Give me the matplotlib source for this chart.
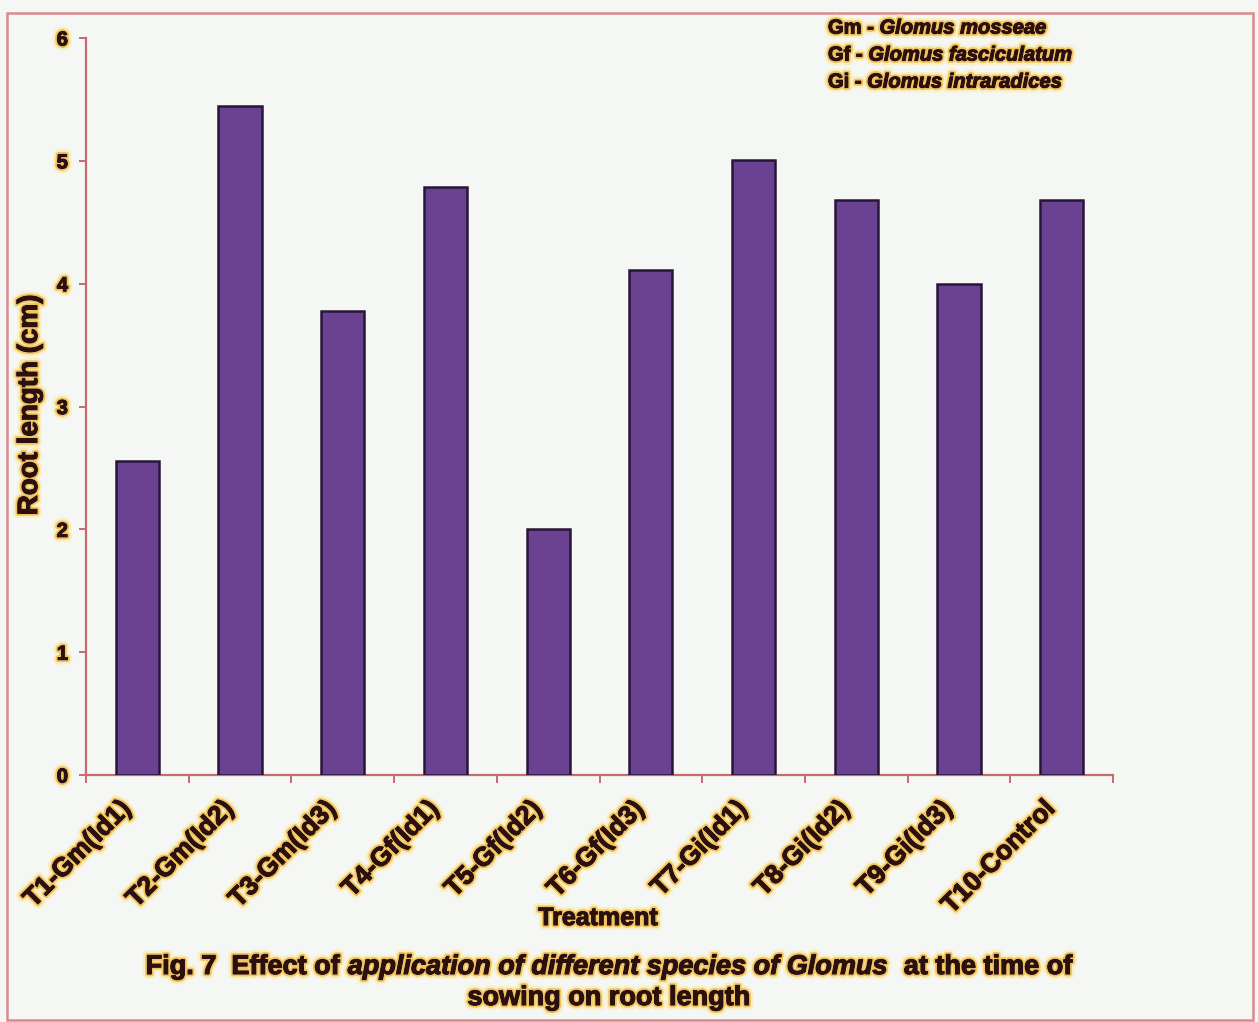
import matplotlib
matplotlib.use("Agg")
import matplotlib.pyplot as plt
import matplotlib.patheffects as pe
import matplotlib.transforms as mtransforms
from matplotlib.patches import Rectangle

# Data
treatments = ["T1-Gm(Id1)", "T2-Gm(Id2)", "T3-Gm(Id3)", "T4-Gf(Id1)", "T5-Gf(Id2)",
              "T6-Gf(Id3)", "T7-Gi(Id1)", "T8-Gi(Id2)", "T9-Gi(Id3)", "T10-Control"]
root_length = [2.56, 5.45, 3.78, 4.79, 2.0, 4.11, 5.01, 4.68, 4.0, 4.68]
y_ticks = [0, 1, 2, 3, 4, 5, 6]
species_key = [("Gm - ", "Glomus mosseae"),
               ("Gf - ", "Glomus fasciculatum"),
               ("Gi - ", "Glomus intraradices")]

W, H, DPI = 1258, 1022, 100
plt.rcParams["font.family"] = ["Liberation Sans", "DejaVu Sans"]
plt.rcParams["font.weight"] = "bold"

TXT = "#2b1010"
AX = "#c86a72"
BG = "#f5f7f4"
glow = [pe.withStroke(linewidth=7, foreground="#fbe9a0", alpha=0.55),
        pe.withStroke(linewidth=3.5, foreground="#eeb640", alpha=0.75),
        pe.withStroke(linewidth=0.8, foreground=TXT),
        pe.Normal()]

fig = plt.figure(figsize=(W / DPI, H / DPI), dpi=DPI, facecolor=BG)
fig.patches.append(Rectangle((7 / W, 1 - 1020 / H), (1253 - 7) / W, (1020 - 13) / H,
                             transform=fig.transFigure, fill=False,
                             edgecolor="#d88a8e", linewidth=1.8))

ax = fig.add_axes([86 / W, 1 - 775 / H, (1113 - 86) / W, (775 - 38) / H])
ax.set_facecolor(BG)
n = len(treatments)
centers = [i + 0.5 for i in range(n)]
ax.bar(centers, root_length, width=0.42, color="#6b4291", edgecolor="#281638",
       linewidth=1.8, zorder=3)

ax.set_xlim(0, n)
ax.set_ylim(0, 6)
for s in ("top", "right"):
    ax.spines[s].set_visible(False)
for s in ("left", "bottom"):
    ax.spines[s].set_color(AX)
    ax.spines[s].set_linewidth(1.6)

ax.set_yticks(y_ticks)
ax.set_yticklabels([str(v) for v in y_ticks], fontsize=14.5, color=TXT, path_effects=glow)
ax.tick_params(axis="y", colors=AX, labelcolor=TXT, length=5, width=1.4, pad=8)

ax.set_xticks(range(n + 1))
ax.set_xticklabels([])
ax.tick_params(axis="x", which="major", colors=AX, length=6, width=1.4)
ax.set_xticks(centers, minor=True)
ax.set_xticklabels(treatments, minor=True, rotation=45, ha="right", va="top",
                   rotation_mode="anchor", fontsize=19, color=TXT, path_effects=glow)
ax.tick_params(axis="x", which="minor", length=0, pad=22)
shift = mtransforms.ScaledTranslation(-0.19, 0.09, fig.dpi_scale_trans)
for lab in ax.get_xticklabels(minor=True):
    lab.set_transform(lab.get_transform() + shift)

fig.text(30 / W, 1 - 405 / H, "Root length (cm)", rotation=90, ha="center", va="center",
         fontsize=20, color=TXT, path_effects=glow)
fig.text(598 / W, 1 - 918 / H, "Treatment", ha="center", va="center",
         fontsize=18, color=TXT, path_effects=glow)

renderer = fig.canvas.get_renderer()


def rich_line(segments, x, y, size, align="left"):
    """Draw a row of text runs (text, style) side by side at pixel position (x, y)."""
    arts = []
    for text, style in segments:
        t = fig.text(0, 0, text, fontsize=size, style=style, color=TXT,
                     va="center", ha="left", path_effects=glow)
        arts.append(t)
    widths = [a.get_window_extent(renderer).width for a in arts]
    total = sum(widths)
    x0 = x - total / 2 if align == "center" else x
    for a, w in zip(arts, widths):
        a.set_position((x0 / W, 1 - y / H))
        x0 += w


for i, (abbr, name) in enumerate(species_key):
    rich_line([(abbr, "normal"), (name, "italic")], 828, 28 + 27 * i, 14.5)

rich_line([("Fig. 7  Effect of ", "normal"),
           ("application of different species of Glomus ", "italic"),
           (" at the time of", "normal")], 609, 967, 19.5, align="center")
rich_line([("sowing on root length", "normal")], 609, 998, 19.5, align="center")

fig.savefig("out.png", dpi=DPI, facecolor=BG)
